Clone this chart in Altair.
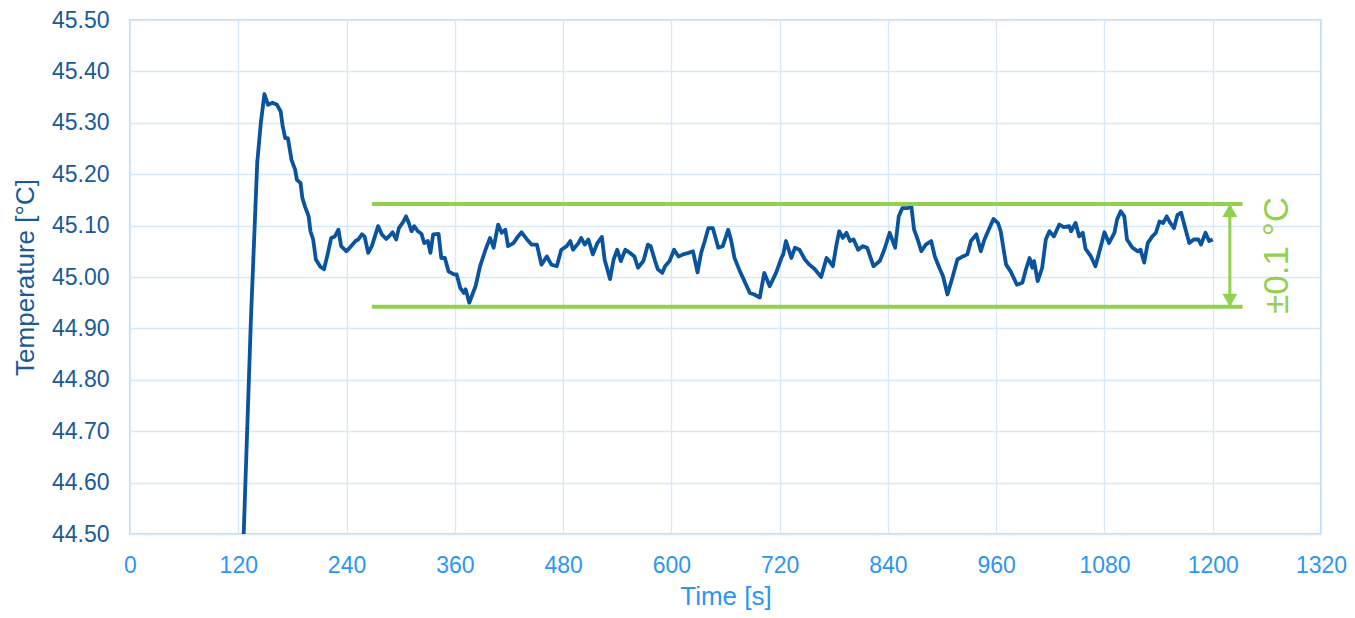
import altair as alt
import pandas as pd

# ---- data ----
time_s = [122, 126, 134, 141, 145, 149, 153, 158, 163, 167,
          169, 172, 175, 179, 183, 185, 189, 191, 194, 198,
          200, 203, 206, 211, 215, 219, 223, 227, 231, 234,
          240, 245, 250, 253, 257, 260, 264, 268, 275, 279,
          284, 287, 291, 295, 298, 302, 306, 309, 312, 315,
          319, 323, 326, 330, 333, 336, 342, 345, 349, 353,
          359, 362, 366, 370, 372, 376, 383, 388, 394, 399,
          403, 408, 412, 416, 419, 425, 430, 434, 440, 445,
          451, 456, 462, 467, 473, 478, 484, 488, 491, 497,
          500, 504, 508, 513, 518, 523, 526, 532, 536, 540,
          544, 549, 554, 559, 563, 569, 574, 577, 582, 585,
          590, 593, 598, 603, 608, 613, 619, 624, 629, 633,
          637, 641, 646, 652, 657, 663, 666, 670, 676, 681,
          687, 692, 698, 703, 709, 716, 722, 724, 727, 733,
          737, 742, 748, 753, 759, 766, 772, 775, 779, 783,
          786, 790, 794, 798, 802, 807, 812, 817, 824, 831,
          836, 842, 848, 852, 856, 862, 866, 869, 873, 877,
          882, 888, 892, 897, 901, 906, 912, 917, 923, 928,
          932, 938, 943, 947, 951, 957, 962, 965, 971, 976,
          983, 989, 993, 997, 1000, 1002, 1006, 1011, 1015, 1019,
          1024, 1030, 1035, 1041, 1043, 1048, 1052, 1056, 1059, 1065,
          1070, 1076, 1080, 1085, 1091, 1094, 1098, 1102, 1105, 1111,
          1117, 1120, 1124, 1128, 1133, 1137, 1141, 1145, 1149, 1153,
          1157, 1161, 1165, 1170, 1174, 1179, 1184, 1187, 1192, 1196,
          1200]

temp_c = [44.27, 44.50, 44.917, 45.222, 45.300, 45.356, 45.335, 45.339, 45.335, 45.322,
          45.296, 45.270, 45.270, 45.228, 45.209, 45.189, 45.183, 45.154, 45.137, 45.118,
          45.089, 45.073, 45.034, 45.020, 45.015, 45.044, 45.076, 45.079, 45.092, 45.060,
          45.050, 45.060, 45.070, 45.073, 45.083, 45.079, 45.047, 45.060, 45.099, 45.083,
          45.074, 45.079, 45.087, 45.073, 45.095, 45.105, 45.118, 45.105, 45.089, 45.099,
          45.089, 45.084, 45.066, 45.070, 45.047, 45.083, 45.084, 45.037, 45.037, 45.011,
          45.005, 45.005, 44.979, 44.969, 44.976, 44.950, 44.982, 45.021, 45.053, 45.076,
          45.057, 45.102, 45.086, 45.092, 45.060, 45.066, 45.079, 45.087, 45.073, 45.063,
          45.063, 45.024, 45.040, 45.024, 45.021, 45.053, 45.060, 45.070, 45.053, 45.066,
          45.076, 45.063, 45.073, 45.044, 45.066, 45.078, 45.034, 44.996, 45.034, 45.053,
          45.031, 45.053, 45.047, 45.040, 45.018, 45.031, 45.063, 45.060, 45.031, 45.015,
          45.008, 45.021, 45.031, 45.053, 45.040, 45.044, 45.047, 45.050, 45.009, 45.047,
          45.070, 45.095, 45.095, 45.057, 45.060, 45.092, 45.073, 45.037, 45.011, 44.992,
          44.969, 44.966, 44.960, 45.008, 44.982, 45.008, 45.037, 45.044, 45.070, 45.037,
          45.057, 45.053, 45.034, 45.024, 45.015, 45.000, 45.037, 45.031, 45.021, 45.063,
          45.089, 45.076, 45.086, 45.070, 45.073, 45.053, 45.060, 45.057, 45.021, 45.031,
          45.053, 45.086, 45.057, 45.118, 45.134, 45.134, 45.137, 45.092, 45.073, 45.050,
          45.063, 45.070, 45.040, 45.018, 45.002, 44.966, 45.002, 45.034, 45.040, 45.044,
          45.070, 45.083, 45.050, 45.073, 45.089, 45.113, 45.105, 45.089, 45.024, 45.011,
          44.985, 44.989, 45.015, 45.037, 45.018, 45.031, 44.992, 45.018, 45.073, 45.089,
          45.079, 45.102, 45.097, 45.099, 45.089, 45.105, 45.079, 45.086, 45.055, 45.040,
          45.021, 45.060, 45.087, 45.066, 45.086, 45.112, 45.128, 45.118, 45.073, 45.057,
          45.050, 45.053, 45.028, 45.066, 45.079, 45.086, 45.108, 45.105, 45.118, 45.105,
          45.095, 45.121, 45.125, 45.092, 45.066, 45.073, 45.073, 45.063, 45.086, 45.070,
          45.073]

band_low = 44.942
band_high = 45.142
band_start = 268
band_end = 1233
arrow_time = 1219
label_time = 1283
label_value = 45.042
label_text = "±0.1 °C"

x_ticks = [0, 120, 240, 360, 480, 600, 720, 840, 960, 1080, 1200, 1320]
y_ticks = [44.5, 44.6, 44.7, 44.8, 44.9, 45.0, 45.1, 45.2, 45.3, 45.4, 45.5]

assert len(time_s) == len(temp_c), (len(time_s), len(temp_c))

# ---- styling ----
BLUE = "#0A539E"
GREEN = "#92D050"
YLAB = "#1B5A99"
XLAB = "#2B96F3"
FONT = "Liberation Sans"

line_df = pd.DataFrame({"t": time_s, "v": temp_c})
band_df = pd.DataFrame({"t": [band_start, band_start], "t2": [band_end, band_end],
                        "v": [band_low, band_high]})
shaft_df = pd.DataFrame({"t": [arrow_time], "v": [band_high], "v2": [band_low]})
top_head = pd.DataFrame({"t": [arrow_time], "v": [band_high]})
bot_head = pd.DataFrame({"t": [arrow_time], "v": [band_low]})
label_df = pd.DataFrame({"t": [label_time], "v": [label_value], "txt": [label_text]})

x_axis = alt.Axis(values=x_ticks, format="d", title="Time [s]", labelColor=XLAB,
                  titleColor=XLAB, labelFlush=False, labelPadding=38,
                  labelBaseline="alphabetic", titleY=70, titleBaseline="alphabetic",
                  grid=True)
y_axis = alt.Axis(values=y_ticks, format=".2f", title="Temperature [°C]",
                  labelColor=YLAB, titleColor=YLAB, labelFlush=False, labelPadding=21,
                  titleX=-97, titleY=257, titleAngle=270, titleAlign="center",
                  titleBaseline="alphabetic", grid=True)

x_scale = alt.Scale(domain=[0, 1320], nice=False, zero=False)
y_scale = alt.Scale(domain=[44.5, 45.5], nice=False, zero=False)

X = alt.X("t:Q", scale=x_scale, axis=x_axis)
Y = alt.Y("v:Q", scale=y_scale, axis=y_axis)

line = alt.Chart(line_df).mark_line(color=BLUE, strokeWidth=3.8, clip=True,
                                    strokeJoin="round").encode(x=X, y=Y)

bands = alt.Chart(band_df).mark_rule(color=GREEN, strokeWidth=4).encode(
    x=X, x2="t2:Q", y=Y)

shaft = alt.Chart(shaft_df).mark_rule(color=GREEN, strokeWidth=3).encode(
    x=X, y=Y, y2="v2:Q")

head_up = alt.Chart(top_head).mark_point(shape="triangle-up", filled=True, size=225,
                                         color=GREEN, opacity=1, yOffset=6.5).encode(x=X, y=Y)
head_down = alt.Chart(bot_head).mark_point(shape="triangle-down", filled=True, size=225,
                                           color=GREEN, opacity=1, yOffset=-6.5).encode(x=X, y=Y)

label = alt.Chart(label_df).mark_text(angle=270, fontSize=35, color=GREEN, font=FONT,
                                      align="center", baseline="alphabetic").encode(
    x=X, y=Y, text="txt:N")

chart = alt.layer(line, bands, shaft, head_up, head_down, label).properties(
    width=1191, height=514,
    autosize=alt.AutoSizeParams(type="none"),
    padding={"left": 122, "top": 12, "right": 26, "bottom": 76},
).configure_view(
    stroke="#BBDCF8", strokeWidth=2
).configure_axis(
    gridColor="#D6E9FB", gridWidth=1.3, domain=False, ticks=False, tickSize=0,
    labelFont=FONT, labelFontSize=23, titleFont=FONT, titleFontSize=26,
    titleFontWeight="normal"
)

chart.save("out.html", embed_options={"renderer": "svg", "actions": False})
